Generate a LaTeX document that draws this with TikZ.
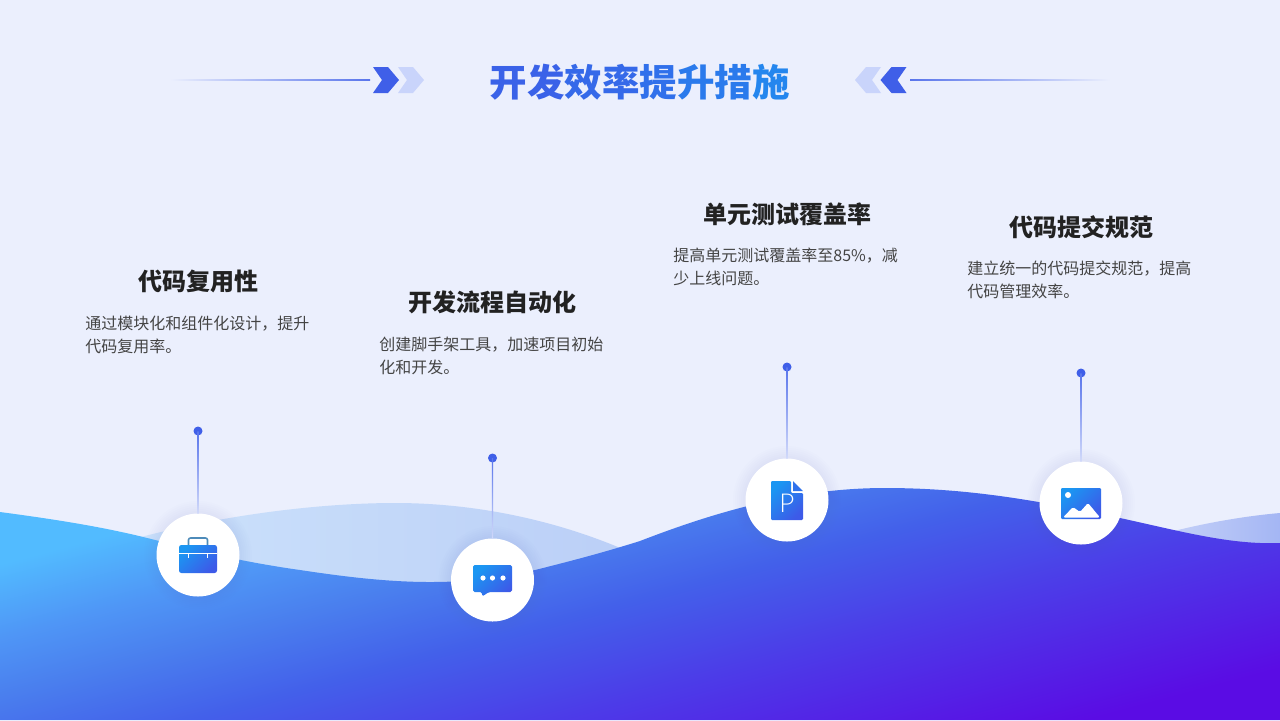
\documentclass[tikz,border=0pt]{standalone}
\usepackage{fontspec}
\setmainfont{Noto Sans CJK SC}
\newfontfamily\latinf{Lato Light}
\usetikzlibrary{calc}
\definecolor{bg}{HTML}{EBEFFD}
\definecolor{iconA}{HTML}{1B96F2}
\definecolor{iconB}{HTML}{3D5AE8}
\definecolor{accent}{HTML}{3F5FE8}
\definecolor{accentl}{HTML}{C9D4FB}
\definecolor{headc}{HTML}{222222}
\definecolor{bodyc}{HTML}{444444}
\definecolor{halo}{HTML}{5A70E0}
\definecolor{paleA}{HTML}{CCE2FB}
\definecolor{paleB}{HTML}{BFD7F9}
\definecolor{paleC}{HTML}{BBCFF7}
\definecolor{paleD}{HTML}{C4D0F8}
\definecolor{paleE}{HTML}{A4B6F4}
\definecolor{tA}{HTML}{3A62E8}
\definecolor{tB}{HTML}{3569E9}
\definecolor{tC}{HTML}{3070EB}
\definecolor{tD}{HTML}{2A7AEC}
\definecolor{tE}{HTML}{2486EE}
\definecolor{bgwaveC}{HTML}{5A0CE4}
\definecolor{bgwaveD}{HTML}{4C3CE8}
\definecolor{bgwaveE}{HTML}{4360EA}
\definecolor{bgwaveF}{HTML}{4A7FEE}
\definecolor{bgwaveG}{HTML}{4F96F6}
\definecolor{bgwaveH}{HTML}{52BBFF}
\pgfdeclareverticalshading{wavegrad}{100bp}{
  color(0bp)=(bgwaveC);
  color(42.26bp)=(bgwaveC);
  color(47.3bp)=(bgwaveD);
  color(50.6bp)=(bgwaveE);
  color(53.2bp)=(bgwaveF);
  color(55.2bp)=(bgwaveG);
  color(57.74bp)=(bgwaveH);
  color(100bp)=(bgwaveH)}
\tikzset{
  dotn/.style={circle,fill=accent,inner sep=0pt,minimum size=4.5pt},
  disc/.style={circle,fill=white,inner sep=0pt,minimum size=41.5pt},
  headn/.style={font=\fontsize{12}{14}\selectfont\bfseries,text=headc,inner sep=0pt,anchor=center},
  bodyn/.style={font=\fontsize{8}{11.5}\selectfont,text=bodyc,inner sep=0pt,anchor=west,align=left},
  iconfill/.style={top color=iconA,bottom color=iconB,shading angle=45},
}
\newcommand{\stem}[2]{\shade[top color=accent!85!bg,bottom color=accent!15!bg]
  ($(#1.center)+(-0.7,0)$) rectangle ($(#2.north)+(0.7,0)$);}
\newcommand{\haloat}[1]{\foreach \rr in {42,44,...,54}{\fill[halo,opacity=0.012] (#1) circle[radius=\rr];}}
\begin{document}
\begin{tikzpicture}[x=0.5pt,y=-0.5pt]
\useasboundingbox (0,0) rectangle (1280,720);
\fill[bg] (0,0) rectangle (1280,720);

% pale back waves
\shade[left color=paleA,middle color=paleB,right color=paleC]
  (130,540) .. controls (220,515) and (320,503) .. (395,503)
  .. controls (480,503) and (560,522) .. (625,550) -- (625,620) -- (130,620) -- cycle;
\shade[left color=paleD,right color=paleE]
  (1170,532) .. controls (1205,523) and (1245,516) .. (1280,513) -- (1280,600) -- (1170,600) -- cycle;

% main wave
\begin{scope}
\clip (0,512) .. controls (60,520) and (110,528) .. (159,541)
  .. controls (205,553) and (250,563) .. (300,570)
  .. controls (340,576) and (385,582) .. (430,582)
  .. controls (470,582) and (500,578) .. (535,570)
  .. controls (575,560) and (605,552) .. (640,541)
  .. controls (720,510) and (800,488) .. (885,488)
  .. controls (970,488) and (1040,501) .. (1120,518)
  .. controls (1180,531) and (1230,545) .. (1280,543)
  -- (1280,720) -- (0,720) -- cycle;
\shade[shading=wavegrad,shading angle=15] (-60,-84) rectangle (1340,1316);
\end{scope}

% title
\node[inner sep=0pt,font=\fontsize{18.75}{22}\selectfont\bfseries] (title) at (639.5,82)
 {\textcolor{tA}{开}\textcolor{tA}{发}\textcolor{tB}{效}\textcolor{tB}{率}\textcolor{tC}{提}\textcolor{tD}{升}\textcolor{tD}{措}\textcolor{tE}{施}};

% title ornaments
\shade[left color=bg,right color=accent!85!bg] (170,79.4) rectangle (370,80.6);
\shade[left color=accent!85!bg,right color=bg] (910,79.4) rectangle (1110,80.6);
\fill[accent] (373,67) -- (388,67) -- (399,80) -- (388,93) -- (373,93) -- (382,80) -- cycle;
\fill[accentl] (398,67) -- (413,67) -- (424,80) -- (413,93) -- (398,93) -- (407,80) -- cycle;
\fill[accent] (906.5,67) -- (891.5,67) -- (880.5,80) -- (891.5,93) -- (906.5,93) -- (897.5,80) -- cycle;
\fill[accentl] (881,67) -- (866,67) -- (855,80) -- (866,93) -- (881,93) -- (872,80) -- cycle;

% halos
\haloat{198,555}
\haloat{492.5,580}
\haloat{787,500}
\haloat{1081,503}

% discs and dots
\node[disc] (d1) at (198,555) {};
\node[disc] (d2) at (492.5,580) {};
\node[disc] (d3) at (787,500) {};
\node[disc] (d4) at (1081,503) {};
\node[dotn] (p1) at (198,431) {};
\node[dotn] (p2) at (492.5,458) {};
\node[dotn] (p3) at (787,367) {};
\node[dotn] (p4) at (1081,373) {};
\stem{p1}{d1}
\stem{p2}{d2}
\stem{p3}{d3}
\stem{p4}{d4}

% texts
\node[headn] (h1) at (198,281) {代码复用性};
\node[headn] (h2) at (492.5,302) {开发流程自动化};
\node[headn] (h3) at (787,214) {单元测试覆盖率};
\node[headn] (h4) at (1081,227) {代码提交规范};
\node[bodyn] (b1) at (85,334.5) {通过模块化和组件化设计，提升\\代码复用率。};
\node[bodyn] (b2) at (379,355.5) {创建脚手架工具，加速项目初始\\化和开发。};
\node[bodyn] (b3) at (673,266.5) {提高单元测试覆盖率至85\%，减\\少上线问题。};
\node[bodyn] (b4) at (967,279.5) {建立统一的代码提交规范，提高\\代码管理效率。};

% briefcase icon
\draw[line width=0.8pt,iconA!50!gray,rounded corners=1pt] (188.5,546) -- (188.5,538) -- (207.5,538) -- (207.5,546);
\shade[iconfill,rounded corners=1.2pt] (179,545) rectangle (217,573);
\fill[white] (179,552.6) rectangle (217,553.6);
\fill[white] (187.9,553) rectangle (189,557.5);
\fill[white] (207,553) rectangle (208.1,557.5);

% chat icon
\shade[iconfill,rounded corners=0.8pt] (473,565) -- (512,565) -- (512,592) -- (489,592) -- (482,596.5) -- (482,592) -- (473,592) -- cycle;
\fill[white] (483,578) circle[radius=2.6];
\fill[white] (492.5,578) circle[radius=2.6];
\fill[white] (503,578) circle[radius=2.6];

% document icon
\shade[iconfill,rounded corners=0.6pt] (771,481) -- (791,481) -- (791,493) -- (803,493) -- (803,520) -- (771,520) -- cycle;
\fill[iconB!60!iconA] (793,481) -- (803,491) -- (793,491) -- cycle;
\node[inner sep=0pt,text=white,font=\latinf\fontsize{13}{14}\selectfont] (pglyph) at (787,503.5) {P};

% picture icon
\shade[iconfill,rounded corners=0.6pt] (1061,488) rectangle (1101,519);
\fill[white] (1068,495) circle[radius=3];
\fill[white,rounded corners=0.8pt] (1063,517.5) -- (1073,507) -- (1080,512) -- (1088,503) -- (1100,517.5) -- cycle;
\end{tikzpicture}
\end{document}
